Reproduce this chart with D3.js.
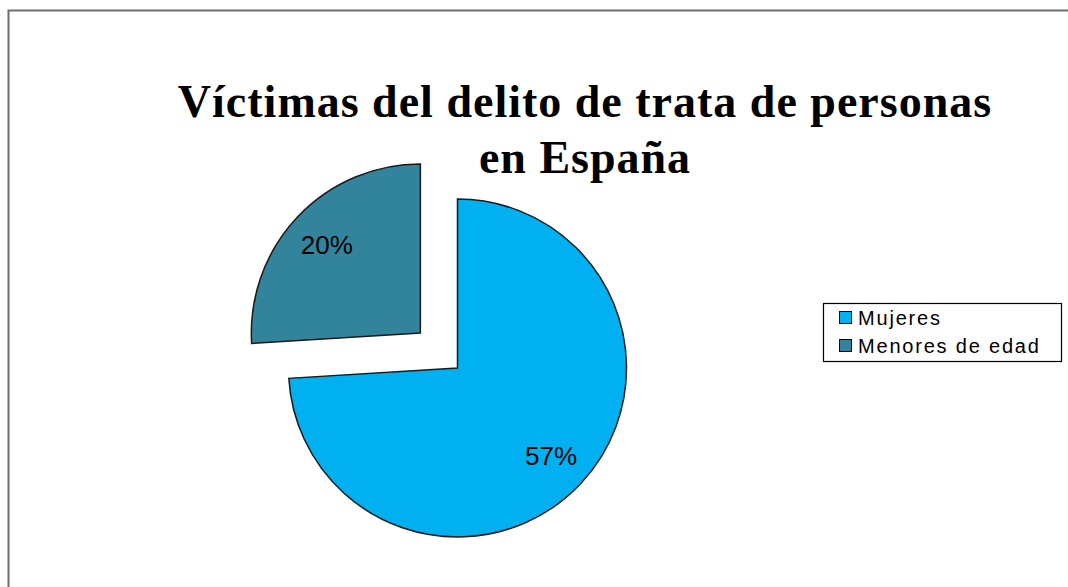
<!DOCTYPE html>
<html>
<head>
<meta charset="utf-8">
<script src="https://cdn.jsdelivr.net/npm/d3@7"></script>
<style>
  body { margin: 0; background: #fff; }
  svg { display: block; }
</style>
</head>
<body>
<svg id="chart" width="1068" height="587"></svg>
<script>
// chart data
const categories = ['Mujeres', 'Menores de edad'];
const values = [57, 20];
const valueLabels = ['57%', '20%'];
const colors = ['#00B0F0', '#31849B'];
const titleLines = ['Víctimas del delito de trata de personas', 'en España'];

const svg = d3.select('#chart');

// outer frame (runs off the right and bottom edge)
svg.append('rect')
    .attr('x', 8.5).attr('y', 10.5)
    .attr('width', 1080).attr('height', 600)
    .attr('fill', 'none')
    .attr('stroke', '#6e6e6e')
    .attr('stroke-width', 2);

// title
svg.append('g').selectAll('text')
    .data(titleLines)
    .enter()
    .append('text')
    .attr('x', 585)
    .attr('y', (_, i) => 117 + i * 56)
    .attr('text-anchor', 'middle')
    .attr('font-family', '"Liberation Serif", "Times New Roman", serif')
    .attr('font-weight', 'bold')
    .attr('font-size', '46px')
    .attr('letter-spacing', '1px')
    .attr('fill', '#000')
    .text(d => d);

// pie
const cx = 457.5, cy = 368, radius = 169, explode = 51;

const pie = d3.pie().sort(null).value(d => d);
const arcs = pie(values);

const arc = d3.arc().innerRadius(0).outerRadius(radius);
const labelArc = d3.arc().innerRadius(radius * 0.76).outerRadius(radius * 0.76);

const pieG = svg.append('g').attr('transform', `translate(${cx},${cy})`);

const offset = (d, i) => {
    if (i !== 1) return [0, 0];
    const mid = (d.startAngle + d.endAngle) / 2;
    return [Math.sin(mid) * explode, -Math.cos(mid) * explode];
};

const slices = pieG.selectAll('g.slice')
    .data(arcs)
    .enter()
    .append('g')
    .attr('class', 'slice')
    .attr('transform', (d, i) => `translate(${offset(d, i)})`);

slices.append('path')
    .attr('d', arc)
    .attr('fill', (_, i) => colors[i])
    .attr('stroke', '#1a1a1a')
    .attr('stroke-width', 1.5)
    .attr('stroke-linejoin', 'miter');

slices.append('text')
    .attr('transform', d => `translate(${labelArc.centroid(d)})`)
    .attr('text-anchor', 'middle')
    .attr('dy', '0.36em')
    .attr('font-family', '"Liberation Sans", Arial, sans-serif')
    .attr('font-size', '26px')
    .attr('fill', '#000')
    .text((_, i) => valueLabels[i]);

// legend
const legend = svg.append('g');
legend.append('rect')
    .attr('x', 823.5).attr('y', 303.5)
    .attr('width', 238).attr('height', 58)
    .attr('fill', '#fff')
    .attr('stroke', '#000')
    .attr('stroke-width', 1.2);

const items = legend.selectAll('g.item')
    .data(categories)
    .enter()
    .append('g')
    .attr('class', 'item')
    .attr('transform', (_, i) => `translate(839,${311 + i * 28})`);

items.append('rect')
    .attr('x', 0.5).attr('y', 0.5)
    .attr('width', 12).attr('height', 12)
    .attr('fill', (_, i) => colors[i])
    .attr('stroke', '#000')
    .attr('stroke-width', 1);

items.append('text')
    .attr('x', 19)
    .attr('y', 14)
    .attr('font-family', '"Liberation Sans", Arial, sans-serif')
    .attr('font-size', '20px')
    .attr('letter-spacing', '1.8px')
    .attr('fill', '#000')
    .text(d => d);
</script>
</body>
</html>
